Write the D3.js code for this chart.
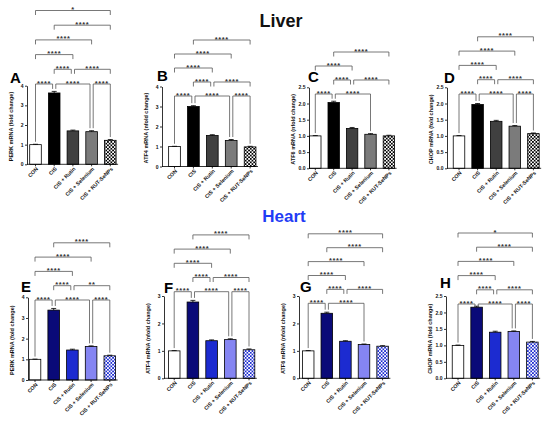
<!DOCTYPE html>
<html>
<head>
<meta charset="utf-8">
<script src="https://cdn.jsdelivr.net/npm/d3@7"></script>
<style>
  body { margin: 0; background: #fff; }
  svg { font-family: "Liberation Sans", Arial, sans-serif; }
</style>
</head>
<body>
<svg id="fig" width="550" height="422"></svg>
<script>
var groups = ["CON", "CIS", "CIS + Rutin", "CIS + Selenium", "CIS + RUT-SeNPs"];

// fold change values (mean) and SEM
var liverPERK = [1.00, 3.63, 1.70, 1.66, 1.22];
var liverPERKErr = [0.02, 0.08, 0.04, 0.05, 0.04];
var liverATF4 = [1.00, 3.00, 1.55, 1.30, 0.98];
var liverATF4Err = [0.01, 0.04, 0.04, 0.05, 0.03];
var liverATF6 = [1.00, 2.03, 1.23, 1.05, 1.00];
var liverATF6Err = [0.01, 0.04, 0.03, 0.02, 0.02];
var liverCHOP = [1.00, 1.97, 1.45, 1.30, 1.07];
var liverCHOPErr = [0.01, 0.03, 0.03, 0.02, 0.02];

var heartPERK = [1.00, 3.38, 1.45, 1.62, 1.17];
var heartPERKErr = [0.01, 0.08, 0.04, 0.03, 0.03];
var heartATF4 = [1.00, 2.78, 1.37, 1.41, 1.04];
var heartATF4Err = [0.01, 0.06, 0.03, 0.03, 0.03];
var heartATF6 = [1.00, 2.37, 1.35, 1.23, 1.17];
var heartATF6Err = [0.01, 0.04, 0.02, 0.02, 0.02];
var heartCHOP = [1.00, 2.16, 1.40, 1.42, 1.10];
var heartCHOPErr = [0.01, 0.03, 0.03, 0.02, 0.02];

var ticks4 = [0, 1, 2, 3, 4];
var ticks3 = [0, 1, 2, 3];
var ticks25 = [0, 0.5, 1, 1.5, 2, 2.5];

// significance brackets: [from group, to group, level, label]
var compA = [[0,1,1,"****"],[1,3,1,"****"],[3,4,1,"****"],[1,2,2,"****"],[2,4,2,"****"],[0,2,3,"****"],[0,3,4,"****"],[1,4,5,"****"],[0,4,6,"*"]];
var compB = [[0,1,1,"****"],[1,3,1,"****"],[3,4,1,"****"],[1,2,2,"****"],[2,4,2,"****"],[0,2,3,"****"],[0,3,4,"****"],[1,4,5,"****"]];
var compC = [[0,1,1,"****"],[1,3,1,"****"],[1,2,2,"****"],[2,4,2,"****"],[0,2,3,"****"],[1,4,4,"****"]];
var compD = [[0,1,1,"****"],[1,3,1,"****"],[3,4,1,"****"],[1,2,2,"****"],[2,4,2,"****"],[0,2,3,"****"],[0,3,4,"****"],[1,4,5,"****"]];
var compE = [[0,1,1,"****"],[1,3,1,"****"],[3,4,1,"****"],[1,2,2,"****"],[2,4,2,"**"],[0,2,3,"****"],[0,3,4,"****"],[1,4,5,"****"]];
var compF = [[0,1,1,"****"],[1,3,1,"****"],[3,4,1,"****"],[1,2,2,"****"],[2,4,2,"****"],[0,2,3,"****"],[0,3,4,"****"],[1,4,5,"****"]];
var compG = [[0,1,1,"****"],[1,3,1,"****"],[1,2,2,"****"],[2,4,2,"****"],[0,2,3,"****"],[0,3,4,"****"],[1,4,5,"****"],[0,4,6,"****"]];
var compH = [[0,1,1,"****"],[1,3,1,"****"],[3,4,1,"****"],[1,2,2,"****"],[2,4,2,"****"],[0,2,3,"****"],[0,3,4,"****"],[1,4,5,"****"],[0,4,6,"*"]];

var svg = d3.select("#fig");
var defs = svg.append("defs");

// checkered fill used for the RUT-SeNPs bars
function checker(id, color) {
  var s = 1.7;
  var p = defs.append("pattern")
    .attr("id", id)
    .attr("width", 2 * s).attr("height", 2 * s)
    .attr("patternUnits", "userSpaceOnUse");
  p.append("rect").attr("width", 2 * s).attr("height", 2 * s).attr("fill", "#fff");
  p.append("rect").attr("width", s).attr("height", s).attr("fill", color);
  p.append("rect").attr("x", s).attr("y", s).attr("width", s).attr("height", s).attr("fill", color);
}
checker("chkLiver", "#000");
checker("chkHeart", "#1c2bd0");

var liverFill = ["#ffffff", "#000000", "#404040", "#7b7b7b", "url(#chkLiver)"];
var heartFill = ["#ffffff", "#0a0a78", "#1c2bd0", "#8585f2", "url(#chkHeart)"];

var panels = [
  { letter: "A", vals: liverPERK, errs: liverPERKErr, comps: compA, ticks: ticks4, fmt: "d", fills: liverFill,
    ylabel: "PERK mRNA (fold change)", axisX: 27, c0: 35.5, step: 18.7, y0: 164.3, yTop: 85.7, brY: 84, brGap: 14.7, lx: 10, ly: 83 },
  { letter: "B", vals: liverATF4, errs: liverATF4Err, comps: compB, ticks: ticks4, fmt: "d", fills: liverFill,
    ylabel: "ATF4 mRNA (nfold change)", axisX: 162, c0: 174.5, step: 18.9, y0: 166.5, yTop: 86.5, brY: 96, brGap: 14, lx: 157, ly: 81 },
  { letter: "C", vals: liverATF6, errs: liverATF6Err, comps: compC, ticks: ticks25, fmt: ".1f", fills: liverFill,
    ylabel: "ATF6 mRNA (nfold change)", axisX: 309, c0: 315.3, step: 18.4, y0: 168.3, yTop: 87.3, brY: 94, brGap: 14, lx: 308, ly: 82 },
  { letter: "D", vals: liverCHOP, errs: liverCHOPErr, comps: compD, ticks: ticks25, fmt: ".1f", fills: liverFill,
    ylabel: "CHOP mRNA (fold change)", axisX: 447, c0: 459, step: 18.6, y0: 168.3, yTop: 87.3, brY: 94, brGap: 14.3, lx: 444, ly: 83 },
  { letter: "E", vals: heartPERK, errs: heartPERKErr, comps: compE, ticks: ticks4, fmt: "d", fills: heartFill,
    ylabel: "PERK mRNA (fold change)", axisX: 28, c0: 35, step: 18.7, y0: 380, yTop: 297.3, brY: 300, brGap: 14.3, lx: 21, ly: 292 },
  { letter: "F", vals: heartATF4, errs: heartATF4Err, comps: compF, ticks: ticks3, fmt: "d", fills: heartFill,
    ylabel: "ATF4 mRNA (nfold change)", axisX: 164, c0: 174.2, step: 18.7, y0: 378.3, yTop: 296, brY: 291.7, brGap: 14.2, lx: 164, ly: 293 },
  { letter: "G", vals: heartATF6, errs: heartATF6Err, comps: compG, ticks: ticks3, fmt: "d", fills: heartFill,
    ylabel: "ATF6 mRNA (nfold change)", axisX: 299, c0: 308.2, step: 18.6, y0: 378.3, yTop: 296, brY: 303.3, brGap: 13.9, lx: 300, ly: 292 },
  { letter: "H", vals: heartCHOP, errs: heartCHOPErr, comps: compH, ticks: ticks25, fmt: ".1f", fills: heartFill,
    ylabel: "CHOP mRNA (fold change)", axisX: 446, c0: 458, step: 18.6, y0: 378.3, yTop: 296, brY: 304, brGap: 14.2, lx: 440, ly: 288 }
];

// section titles
svg.append("text")
  .attr("x", 281).attr("y", 27)
  .attr("text-anchor", "middle")
  .attr("font-size", 18).attr("font-weight", "bold")
  .attr("fill", "#111")
  .text("Liver");

svg.append("text")
  .attr("x", 284).attr("y", 222)
  .attr("text-anchor", "middle")
  .attr("font-size", 17).attr("font-weight", "bold")
  .attr("fill", "#1f3cf5")
  .text("Heart");

panels.forEach(function (p) {
  var x = d3.scaleBand()
    .domain(groups)
    .range([p.c0 - p.step / 2, p.c0 + 4.5 * p.step])
    .paddingInner(0.38)
    .paddingOuter(0.19);
  var y = d3.scaleLinear().domain([0, d3.max(p.ticks)]).range([p.y0, p.yTop]);
  var bw = x.bandwidth();
  var g = svg.append("g").attr("class", "panel");

  var rows = groups.map(function (name, i) {
    return { name: name, v: p.vals[i], e: p.errs[i], i: i };
  });

  // bars
  g.selectAll(".bar")
    .data(rows)
    .enter().append("rect")
    .attr("class", "bar")
    .attr("x", function (d) { return x(d.name); })
    .attr("width", bw)
    .attr("y", function (d) { return y(d.v); })
    .attr("height", function (d) { return p.y0 - y(d.v); })
    .attr("fill", function (d) { return p.fills[d.i]; })
    .attr("stroke", "#000")
    .attr("stroke-width", 0.8);

  // error bars (upper half only)
  var eb = g.selectAll(".err").data(rows).enter().append("g").attr("class", "err");
  eb.append("line")
    .attr("x1", function (d) { return x(d.name) + bw / 2; })
    .attr("x2", function (d) { return x(d.name) + bw / 2; })
    .attr("y1", function (d) { return y(d.v); })
    .attr("y2", function (d) { return y(d.v + d.e); })
    .attr("stroke", "#000").attr("stroke-width", 0.8);
  eb.append("line")
    .attr("x1", function (d) { return x(d.name) + bw / 2 - 2.5; })
    .attr("x2", function (d) { return x(d.name) + bw / 2 + 2.5; })
    .attr("y1", function (d) { return y(d.v + d.e); })
    .attr("y2", function (d) { return y(d.v + d.e); })
    .attr("stroke", "#000").attr("stroke-width", 0.8);

  // y axis
  var yAxis = d3.axisLeft(y)
    .tickValues(p.ticks)
    .tickSize(2)
    .tickSizeOuter(0)
    .tickPadding(1.5)
    .tickFormat(d3.format(p.fmt));
  var ya = g.append("g")
    .attr("transform", "translate(" + p.axisX + ",0)")
    .call(yAxis);
  ya.selectAll("path, line").attr("stroke", "#000").attr("stroke-width", 0.8);
  ya.selectAll("text")
    .attr("font-size", 5).attr("font-weight", "bold")
    .attr("font-family", "Liberation Sans, Arial, sans-serif")
    .attr("fill", "#111");

  // x axis
  var xAxis = d3.axisBottom(x).tickSize(2).tickFormat("");
  var xa = g.append("g")
    .attr("transform", "translate(0," + p.y0 + ")")
    .call(xAxis);
  xa.select(".domain").remove();
  xa.selectAll("line").attr("stroke", "#000").attr("stroke-width", 0.8);
  g.append("line")
    .attr("x1", p.axisX).attr("x2", x(groups[4]) + bw + 2)
    .attr("y1", p.y0).attr("y2", p.y0)
    .attr("stroke", "#000").attr("stroke-width", 0.8);

  // rotated category labels
  g.selectAll(".xlab")
    .data(rows)
    .enter().append("text")
    .attr("class", "xlab")
    .attr("text-anchor", "end")
    .attr("font-size", 5.3).attr("font-weight", "bold")
    .attr("fill", "#111")
    .attr("transform", function (d) {
      return "translate(" + (x(d.name) + bw / 2 + 3) + "," + (p.y0 + 5) + ") rotate(-45)";
    })
    .text(function (d) { return d.name; });

  // y axis title
  g.append("text")
    .attr("transform", "translate(" + (p.axisX - 14) + "," + ((p.y0 + p.yTop) / 2 + 1.5) + ") rotate(-90)")
    .attr("text-anchor", "middle")
    .attr("font-size", 5.5).attr("font-weight", "bold")
    .attr("fill", "#111")
    .text(p.ylabel);

  // panel letter
  g.append("text")
    .attr("x", p.lx).attr("y", p.ly)
    .attr("font-size", 15).attr("font-weight", "bold")
    .attr("fill", "#000")
    .text(p.letter);

  // significance brackets
  p.comps.forEach(function (c) {
    var a = c[0], b = c[1], level = c[2];
    var ly = p.brY - (level - 1) * p.brGap;
    var xa = x(groups[a]) + bw / 2;
    var xb = x(groups[b]) + bw / 2;
    var sharedLeft = p.comps.some(function (o) { return o !== c && o[2] === level && o[1] === a; });
    var sharedRight = p.comps.some(function (o) { return o !== c && o[2] === level && o[0] === b; });
    if (sharedLeft) xa += 1.6;
    if (sharedRight) xb -= 1.6;
    var ya1, yb1;
    if (level === 1) {
      ya1 = Math.max(ly + 2, y(p.vals[a] + p.errs[a]) - 2.5);
      yb1 = Math.max(ly + 2, y(p.vals[b] + p.errs[b]) - 2.5);
    } else {
      ya1 = ly + 4.5;
      yb1 = ly + 4.5;
    }
    g.append("path")
      .attr("d", "M" + xa + "," + ya1 + "V" + ly + "H" + xb + "V" + yb1)
      .attr("fill", "none")
      .attr("stroke", "#555")
      .attr("stroke-width", 0.8);
    g.append("text")
      .attr("x", (xa + xb) / 2).attr("y", ly + 1.5)
      .attr("text-anchor", "middle")
      .attr("font-size", 7.5).attr("font-weight", "bold")
      .attr("letter-spacing", 0.6)
      .attr("fill", "#333")
      .text(c[3]);
  });
});
</script>
</body>
</html>
